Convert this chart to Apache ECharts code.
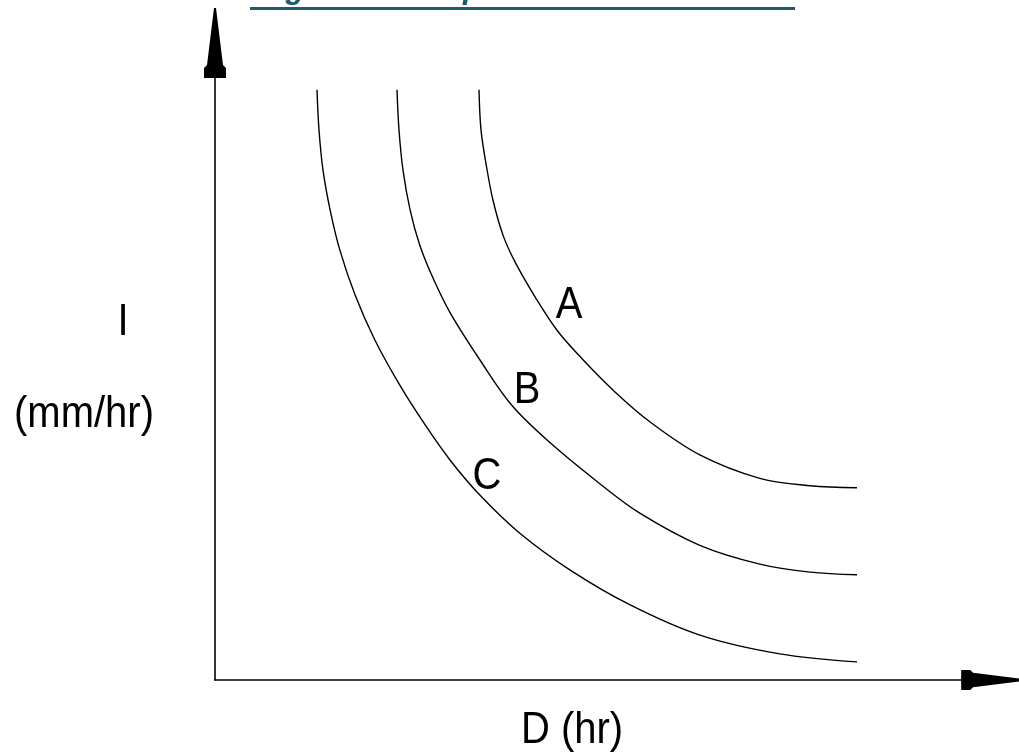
<!DOCTYPE html>
<html>
<head>
<meta charset="utf-8">
<title>Esquema de curvas IDF</title>
<style>
  html, body { margin: 0; padding: 0; background: #fff; }
  #chart { width: 1019px; height: 755px; }
</style>
<script src="https://cdn.jsdelivr.net/npm/echarts@6/dist/echarts.min.js"></script>
</head>
<body>
<div id="chart"></div>
<script>
var curvaA = [
  [33.0, 88.1], [33.25, 82.1], [33.9, 76.9], [34.75, 71.6], [36.0, 66.4], [37.5, 62.4],
  [40.0, 57.2], [42.75, 52.2], [46.0, 47.8], [50.0, 43.0], [54.4, 38.5], [60.6, 33.6],
  [68.1, 30.1], [74.4, 29.0], [80.25, 28.7]
];
var curvaB = [
  [22.75, 88.1], [23.0, 82.1], [23.5, 76.1], [24.4, 70.1], [25.6, 64.9], [27.25, 60.0],
  [29.4, 54.8], [33.1, 47.8], [37.1, 41.0], [41.9, 35.4], [48.1, 29.3], [53.1, 24.9],
  [60.6, 20.1], [68.1, 17.3], [74.4, 16.1], [80.25, 15.7]
];
var curvaC = [
  [12.75, 88.1], [13.0, 82.1], [13.5, 76.1], [14.4, 70.1], [15.6, 64.2], [17.5, 57.5],
  [20.0, 50.7], [23.1, 44.0], [26.25, 38.1], [29.4, 32.8], [33.1, 27.6], [38.1, 21.9],
  [44.4, 16.4], [51.9, 11.2], [60.6, 6.7], [70.6, 3.9], [80.25, 2.7]
];
var nombres = ['A', 'B', 'C'];

var titulo = 'Figura 12: Esquema de curvas IDF';

// flecha ahusada de los ejes
var flecha = 'path://M10,0 L12,0 L19,57 L22,60 L22,70 L0,70 L0,60 L3,57 Z';

var chart = echarts.init(document.getElementById('chart'));

function serie(nombre, datos) {
  return {
    name: nombre,
    type: 'line',
    data: datos,
    smooth: 0.35,
    showSymbol: false,
    silent: true,
    lineStyle: { color: '#000', width: 1.4 }
  };
}

function texto(t, x, y, size) {
  return {
    type: 'text',
    x: x,
    y: y,
    scaleY: 1.12,
    style: {
      text: t,
      fill: '#000',
      font: size + 'px "Liberation Sans", Arial, sans-serif',
      align: 'center',
      verticalAlign: 'middle'
    }
  };
}

var option = {
  backgroundColor: '#fff',
  animation: false,
  grid: { left: 215, right: 4, top: 10, bottom: 75 },
  xAxis: {
    type: 'value',
    min: 0,
    max: 100,
    axisLine: {
      lineStyle: { color: '#000', width: 1.6 },
      symbol: ['none', flecha],
      symbolSize: [20, 64],
      symbolOffset: [0, -22]
    },
    axisTick: { show: false },
    axisLabel: { show: false },
    splitLine: { show: false }
  },
  yAxis: {
    type: 'value',
    min: 0,
    max: 100,
    axisLine: {
      show: true,
      lineStyle: { color: '#000', width: 1.6 },
      symbol: ['none', flecha],
      symbolSize: [22, 70],
      symbolOffset: [0, -33]
    },
    axisTick: { show: false },
    axisLabel: { show: false },
    splitLine: { show: false }
  },
  series: [
    serie(nombres[0], curvaA),
    serie(nombres[1], curvaB),
    serie(nombres[2], curvaC)
  ],
  graphic: [
    {
      type: 'text',
      x: 258,
      y: 5,
      style: {
        text: titulo,
        fill: '#1f5b6c',
        font: 'italic bold 31px "Liberation Sans", Arial, sans-serif',
        align: 'left',
        verticalAlign: 'bottom'
      }
    },
    {
      type: 'rect',
      shape: { x: 250, y: 7, width: 545, height: 3 },
      style: { fill: '#1f5b6c' }
    },
    texto(nombres[0], 569, 306, 40),
    texto(nombres[1], 527, 391, 40),
    texto(nombres[2], 487, 477, 40),
    texto('I', 123, 323, 40),
    texto('(mm/hr)', 84, 415, 40),
    texto('D (hr)', 572, 731, 40)
  ]
};

chart.setOption(option);
</script>
</body>
</html>
